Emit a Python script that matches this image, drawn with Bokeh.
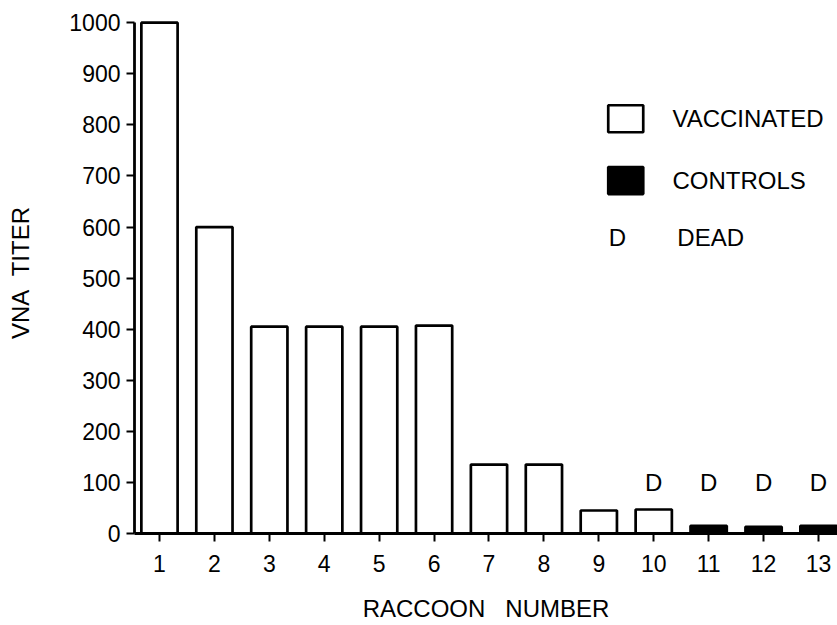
from bokeh.plotting import figure
from bokeh.models import Range1d, FixedTicker, ColumnDataSource
from bokeh.core.properties import value
from bokeh.embed import file_html
from bokeh.resources import INLINE

# ---- data ----
raccoon = list(range(1, 14))
titer = [1000, 600, 405, 405, 405, 407, 135, 135, 45, 47, 15, 13, 15]
group = ["VACCINATED"] * 10 + ["CONTROLS"] * 3
dead_raccoons = [10, 11, 12, 13]
y_ticks = list(range(0, 1001, 100))
x_ticks = raccoon
legend_labels = ["VACCINATED", "CONTROLS", "DEAD"]

FONT = "Liberation Sans"
colors = {"VACCINATED": "white", "CONTROLS": "black"}

src = ColumnDataSource(dict(x=raccoon, top=titer, fill=[colors[g] for g in group]))

p = figure(width=837, height=625,
           x_range=Range1d(0.545, 13.346), y_range=Range1d(0, 1020),
           output_backend="svg", toolbar_location=None,
           min_border_left=134, min_border_right=0,
           min_border_top=12, min_border_bottom=92)

p.vbar(x="x", top="top", bottom=0, width=0.66, fill_color="fill",
       line_color="black", line_width=2.7, source=src)

# D markers above dead animals
D_Y = 100
p.text(x=dead_raccoons, y=[D_Y] * len(dead_raccoons), text=["D"] * len(dead_raccoons),
       text_align="center", text_baseline="middle",
       text_font=value(FONT), text_font_size="24px", text_color="black")

# ---- legend (drawn manually) ----
key_x = 9.49
lab_x = 10.34
rows_y = [812, 691, 580]
p.rect(x=[key_x, key_x], y=rows_y[:2], width=35, height=27,
       width_units="screen", height_units="screen",
       fill_color=["white", "black"], line_color="black", line_width=2.7)
p.text(x=[key_x - 0.15], y=[rows_y[2]], text=["D"], text_align="center",
       text_baseline="middle", text_font=value(FONT), text_font_size="24px",
       text_color="black")
p.text(x=[lab_x, lab_x, lab_x + 0.09], y=rows_y, text=legend_labels,
       text_align="left", text_baseline="middle", text_font=value(FONT),
       text_font_size="24px", text_color="black")

# ---- axes styling ----
p.xgrid.visible = False
p.ygrid.visible = False
p.outline_line_color = None

for ax in (p.xaxis[0], p.yaxis[0]):
    ax.axis_line_width = 2.8
    ax.axis_line_color = "black"
    ax.major_tick_line_width = 2
    ax.major_tick_line_color = "black"
    ax.major_tick_out = 8
    ax.major_tick_in = 0
    ax.minor_tick_line_color = None
    ax.major_label_text_font = FONT
    ax.major_label_text_font_size = "23px"
    ax.major_label_text_color = "black"
    ax.axis_label_text_font = FONT
    ax.axis_label_text_font_size = "24px"
    ax.axis_label_text_font_style = "normal"
    ax.axis_label_text_color = "black"

p.yaxis.ticker = FixedTicker(ticks=y_ticks)
p.yaxis.bounds = (0, 1000)
p.yaxis.axis_label = "VNA\u00a0\u00a0TITER"
p.yaxis.major_label_standoff = 6
p.yaxis.axis_label_standoff = 32

p.xaxis.ticker = FixedTicker(ticks=x_ticks)
p.xaxis.axis_label = "RACCOON\u00a0\u00a0\u00a0NUMBER"
p.xaxis.major_label_standoff = 13
p.xaxis.axis_label_standoff = 20

open("out.html", "w").write(file_html(p, INLINE))
